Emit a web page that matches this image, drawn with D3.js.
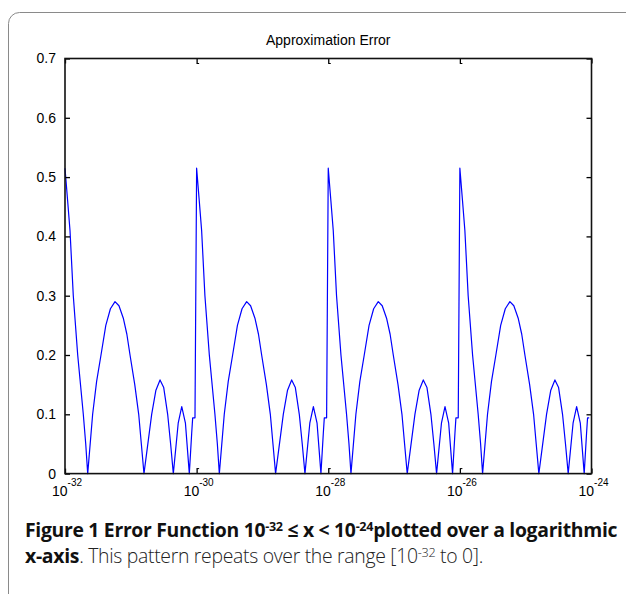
<!DOCTYPE html>
<html>
<head>
<meta charset="utf-8">
<script src="https://cdn.jsdelivr.net/npm/d3@7"></script>
<style>
  html, body { margin: 0; padding: 0; background: #fff; overflow: hidden; }
  svg { display: block; }
</style>
</head>
<body>
<svg id="chart" width="626" height="594"></svg>
<script>
// ---- data ----
// exponent of x (x = 10^exponent)
const logX = [
  -32.000, -31.960, -31.924, -31.874, -31.807, -31.722, -31.685, -31.655, -31.580, -31.520,
  -31.453, -31.380, -31.310, -31.240, -31.180, -31.114, -31.060, -31.012, -30.940, -30.880,
  -30.840, -30.800, -30.683, -30.620, -30.556, -30.500, -30.440, -30.395, -30.354, -30.280,
  -30.226, -30.170, -30.111, -30.075, -30.060, -30.025,
  -30.000, -29.960, -29.924, -29.874, -29.807, -29.722, -29.685, -29.655, -29.580, -29.520,
  -29.453, -29.380, -29.310, -29.240, -29.180, -29.114, -29.060, -29.012, -28.940, -28.880,
  -28.840, -28.800, -28.683, -28.620, -28.556, -28.500, -28.440, -28.395, -28.354, -28.280,
  -28.226, -28.170, -28.111, -28.075, -28.060, -28.025,
  -28.000, -27.960, -27.924, -27.874, -27.807, -27.722, -27.685, -27.655, -27.580, -27.520,
  -27.453, -27.380, -27.310, -27.240, -27.180, -27.114, -27.060, -27.012, -26.940, -26.880,
  -26.840, -26.800, -26.683, -26.620, -26.556, -26.500, -26.440, -26.395, -26.354, -26.280,
  -26.226, -26.170, -26.111, -26.075, -26.060, -26.025,
  -26.000, -25.960, -25.924, -25.874, -25.807, -25.722, -25.685, -25.655, -25.580, -25.520,
  -25.453, -25.380, -25.310, -25.240, -25.180, -25.114, -25.060, -25.012, -24.940, -24.880,
  -24.840, -24.800, -24.683, -24.620, -24.556, -24.500, -24.440, -24.395, -24.354, -24.280,
  -24.226, -24.170, -24.111, -24.075, -24.060, -24.035
];
const errorValues = [
  0.515, 0.460, 0.410, 0.300, 0.200, 0.100, 0.050, 0.000, 0.100, 0.155,
  0.200, 0.250, 0.278, 0.290, 0.283, 0.262, 0.235, 0.200, 0.150, 0.100,
  0.050, 0.000, 0.100, 0.140, 0.158, 0.145, 0.100, 0.050, 0.000, 0.085,
  0.113, 0.085, 0.000, 0.068, 0.094, 0.094,
  0.515, 0.460, 0.410, 0.300, 0.200, 0.100, 0.050, 0.000, 0.100, 0.155,
  0.200, 0.250, 0.278, 0.290, 0.283, 0.262, 0.235, 0.200, 0.150, 0.100,
  0.050, 0.000, 0.100, 0.140, 0.158, 0.145, 0.100, 0.050, 0.000, 0.085,
  0.113, 0.085, 0.000, 0.068, 0.094, 0.094,
  0.515, 0.460, 0.410, 0.300, 0.200, 0.100, 0.050, 0.000, 0.100, 0.155,
  0.200, 0.250, 0.278, 0.290, 0.283, 0.262, 0.235, 0.200, 0.150, 0.100,
  0.050, 0.000, 0.100, 0.140, 0.158, 0.145, 0.100, 0.050, 0.000, 0.085,
  0.113, 0.085, 0.000, 0.068, 0.094, 0.094,
  0.515, 0.460, 0.410, 0.300, 0.200, 0.100, 0.050, 0.000, 0.100, 0.155,
  0.200, 0.250, 0.278, 0.290, 0.283, 0.262, 0.235, 0.200, 0.150, 0.100,
  0.050, 0.000, 0.100, 0.140, 0.158, 0.145, 0.100, 0.050, 0.000, 0.085,
  0.113, 0.085, 0.000, 0.068, 0.094, 0.094
];
const yTicks = [0, 0.1, 0.2, 0.3, 0.4, 0.5, 0.6, 0.7];
const yTickLabels = ["0", "0.1", "0.2", "0.3", "0.4", "0.5", "0.6", "0.7"];
const xTickExponents = [-32, -30, -28, -26, -24];
const chartTitle = "Approximation Error";

(function () {
const svg = d3.select("#chart");
const pL = 65, pR = 591.5, pT = 58.5, pB = 473.6;

// outer figure frame (rounded, right and bottom edges run off the page)
svg.append("rect")
  .attr("x", 8.5).attr("y", 12.5).attr("width", 700).attr("height", 640)
  .attr("rx", 11).attr("ry", 11)
  .attr("fill", "none").attr("stroke", "#8a8a8a").attr("stroke-width", 1);

const x = d3.scaleLog().domain([1e-32, 1e-24]).range([pL, pR]);
const y = d3.scaleLinear().domain([0, 0.7]).range([pB, pT]);

const points = logX.map((e, i) => ({ x: Math.pow(10, e), y: errorValues[i] }));

svg.append("path")
  .datum(points)
  .attr("fill", "none")
  .attr("stroke", "#0000ff")
  .attr("stroke-width", 1.2)
  .attr("stroke-linejoin", "round")
  .attr("d", d3.line().x(d => x(d.x)).y(d => y(d.y)));

const tickLen = 5;
const axisFont = "'Liberation Sans', Arial, Helvetica, sans-serif";

const yAxisLeft = d3.axisLeft(y).tickValues(yTicks)
  .tickFormat((d, i) => yTickLabels[i]).tickSizeInner(-tickLen).tickSizeOuter(0).tickPadding(9);
const gL = svg.append("g").attr("transform", `translate(${pL},0)`).call(yAxisLeft);
gL.selectAll("text").attr("font-family", axisFont).attr("font-size", 14).attr("fill", "#000");

const yAxisRight = d3.axisRight(y).tickValues(yTicks).tickFormat("")
  .tickSizeInner(-tickLen).tickSizeOuter(0);
svg.append("g").attr("transform", `translate(${pR},0)`).call(yAxisRight);

const xTickVals = xTickExponents.map(e => Math.pow(10, e));
const xAxisBottom = d3.axisBottom(x).tickValues(xTickVals).tickFormat("")
  .tickSizeInner(-tickLen).tickSizeOuter(0);
svg.append("g").attr("transform", `translate(0,${pB})`).call(xAxisBottom);
const xAxisTop = d3.axisTop(x).tickValues(xTickVals).tickFormat("")
  .tickSizeInner(-tickLen).tickSizeOuter(0);
svg.append("g").attr("transform", `translate(0,${pT})`).call(xAxisTop);

svg.selectAll(".domain").remove();
svg.selectAll(".tick line").attr("stroke", "#000").attr("stroke-width", 1.3);

// small hooks on the x ticks
xTickExponents.slice(1, -1).forEach(e => {
  const px = x(Math.pow(10, e));
  svg.append("path").attr("d", `M${px},${pB - 5}h2.5`).attr("stroke", "#000").attr("stroke-width", 1);
  svg.append("path").attr("d", `M${px},${pT + 5}h2.5`).attr("stroke", "#000").attr("stroke-width", 1);
});

// plot box
svg.append("rect")
  .attr("x", pL).attr("y", pT).attr("width", pR - pL).attr("height", pB - pT)
  .attr("fill", "none").attr("stroke", "#111").attr("stroke-width", 1.6);

// x tick labels: 10 with superscript exponent
xTickExponents.forEach(e => {
  const px = x(Math.pow(10, e));
  const t = svg.append("text")
    .attr("x", px - 13).attr("y", 496)
    .attr("font-family", axisFont).attr("font-size", 14).attr("fill", "#000");
  t.append("tspan").text("10");
  t.append("tspan").attr("dy", -10).attr("font-size", 10).text(String(e));
});

svg.append("text")
  .attr("x", (pL + pR) / 2).attr("y", 45)
  .attr("text-anchor", "middle")
  .attr("font-family", axisFont).attr("font-size", 14).attr("fill", "#000")
  .text(chartTitle);

// ---- caption ----
const capFont = "'Open Sans', 'Noto Sans', sans-serif";
function fitWidth(textSel, target) {
  const w = textSel.node().getComputedTextLength();
  const fs = parseFloat(textSel.attr("font-size"));
  textSel.attr("font-size", fs * target / w);
}
const cap1 = svg.append("text")
  .attr("x", 25).attr("y", 537)
  .attr("font-family", capFont).attr("font-size", 17).attr("font-weight", "bold")
  .attr("fill", "#111").attr("letter-spacing", "-0.3");
cap1.append("tspan").text("Figure 1 Error Function 10");
cap1.append("tspan").attr("dy", -6).attr("font-size", "0.65em").text("-32");
cap1.append("tspan").attr("dy", 6).text(" \u2264 x < 10");
cap1.append("tspan").attr("dy", -6).attr("font-size", "0.65em").text("-24");
cap1.append("tspan").attr("dy", 6).text("plotted over a logarithmic");
fitWidth(cap1, 590);

const cap2 = svg.append("text")
  .attr("x", 25).attr("y", 563)
  .attr("font-family", capFont).attr("font-size", 17)
  .attr("fill", "#222").attr("letter-spacing", "-0.3");
cap2.append("tspan").attr("font-weight", "bold").attr("fill", "#111").text("x-axis");
cap2.append("tspan").attr("font-weight", "300").text(". This pattern repeats over the range [10");
cap2.append("tspan").attr("dy", -6).attr("font-size", "0.65em").attr("font-weight", "300").text("-32");
cap2.append("tspan").attr("dy", 6).attr("font-weight", "300").text(" to 0].");
fitWidth(cap2, 456);
})();
</script>
</body>
</html>
